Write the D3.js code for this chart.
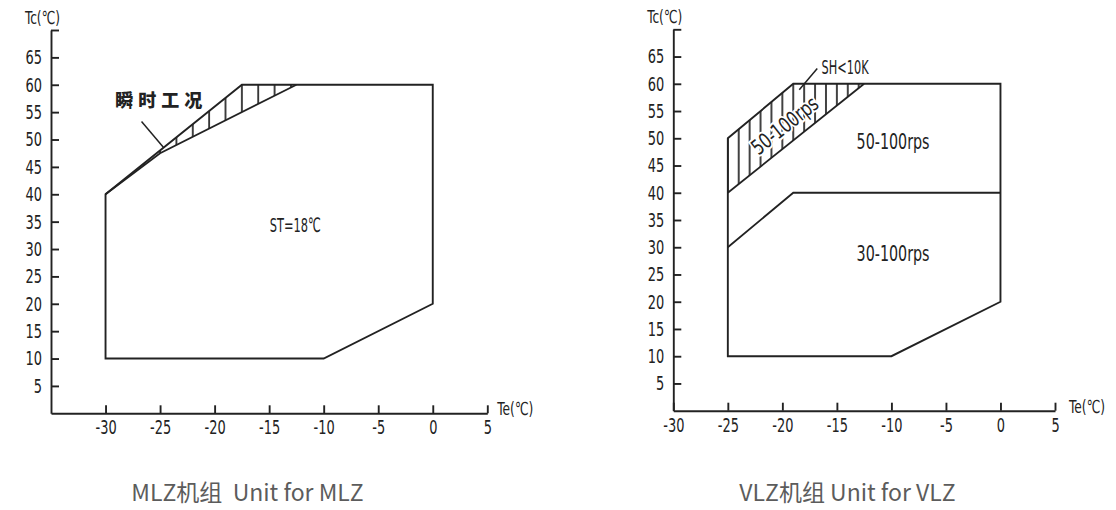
<!DOCTYPE html>
<html>
<head>
<meta charset="utf-8">
<script src="https://cdn.jsdelivr.net/npm/d3@7/dist/d3.min.js"></script>
<style>
  html, body { margin: 0; padding: 0; background: #fff; }
  svg { display: block; }
  .cad { font-family: "Liberation Sans Narrow", "DejaVu Sans Condensed", "Noto Sans", sans-serif; fill: #222; }
  .caption { font-family: "Noto Sans CJK SC", "Noto Sans", sans-serif; fill: #5c5c5c; font-size: 23px; }
</style>
</head>
<body>
<div id="chart"></div>
<script>
// tick values shared by both panels
const xTicks = [-30, -25, -20, -15, -10, -5, 0, 5];
const yTicks = [5, 10, 15, 20, 25, 30, 35, 40, 45, 50, 55, 60, 65, 70];
const yTickLabels = [5, 10, 15, 20, 25, 30, 35, 40, 45, 50, 55, 60, 65];

// MLZ envelope (Te, Tc)
const mlzOutline = [[-30, 10], [-30, 40], [-17.5, 60], [0, 60], [0, 20], [-10, 10]];
const mlzSteady = [[-30, 40], [-25, 47.5], [-12.5, 60]];
const mlzTransient = [[-30, 40], [-17.5, 60], [-12.5, 60], [-25, 47.5]];
const mlzLeader = [[-26.7, 53.3], [-24.7, 48.6]];

// VLZ envelope (Te, Tc)
const vlzOutline = [[-25, 10], [-25, 50], [-19, 60], [0, 60], [0, 20], [-10, 10]];
const vlzHatchEdge = [[-25, 40], [-12.5, 60]];
const vlzSpeedSplit = [[-25, 30], [-19, 40], [0, 40]];
const vlzSuperheat = [[-25, 40], [-25, 50], [-19, 60], [-12.5, 60]];
const vlzLeader = [[-16.8, 62.8], [-18.45, 58.9]];

const W = 1116, H = 510;
const ink = "#222";
const narrow = 0.72; // squeeze for the CAD-like digits

const svg = d3.select("#chart").append("svg")
    .attr("width", W)
    .attr("height", H);

const defs = svg.append("defs");

// fake a narrow drawing font
function squeeze(sel, factor) {
  sel.each(function() {
    let w = this.getComputedTextLength();
    if (w > 0) {
      d3.select(this)
          .attr("textLength", w * factor)
          .attr("lengthAdjust", "spacingAndGlyphs");
    }
  });
}

function drawPanel(cfg) {
  let x = d3.scaleLinear().domain(cfg.xDomain).range(cfg.xRange);
  let y = d3.scaleLinear().domain([0, 70]).range(cfg.yRange);
  let line = d3.line().x(d => x(d[0])).y(d => y(d[1]));
  let g = svg.append("g").attr("class", "panel-" + cfg.id);

  // vertical hatch, aligned on the data grid
  let step = x(cfg.hatchStep) - x(0);
  let pat = defs.append("pattern")
      .attr("id", "hatch-" + cfg.id)
      .attr("patternUnits", "userSpaceOnUse")
      .attr("x", x(cfg.hatchOrigin) - 1)
      .attr("y", 0)
      .attr("width", step)
      .attr("height", H);
  pat.append("line")
      .attr("x1", 1).attr("x2", 1)
      .attr("y1", 0).attr("y2", H)
      .attr("stroke", ink)
      .attr("stroke-width", 1.7);

  g.append("path")
      .attr("d", line(cfg.hatched) + "Z")
      .attr("fill", "url(#hatch-" + cfg.id + ")")
      .attr("stroke", "none");

  cfg.lines.forEach(pts => {
    g.append("path")
        .attr("d", line(pts))
        .attr("fill", "none")
        .attr("stroke", ink)
        .attr("stroke-width", 1.8);
  });

  g.append("path")
      .attr("d", line(cfg.outline) + "Z")
      .attr("fill", "none")
      .attr("stroke", ink)
      .attr("stroke-width", 1.9);

  g.append("path")
      .attr("d", line(cfg.leader))
      .attr("fill", "none")
      .attr("stroke", ink)
      .attr("stroke-width", 1.5);

  // axes, ticks pointing inward
  let yAxis = d3.axisLeft(y)
      .tickValues(yTicks)
      .tickSize(-8)
      .tickSizeOuter(0)
      .tickPadding(9)
      .tickFormat(d => yTickLabels.indexOf(d) >= 0 ? d : "");
  let xAxis = d3.axisBottom(x)
      .tickValues(xTicks)
      .tickSize(-8)
      .tickSizeOuter(0)
      .tickPadding(7)
      .tickFormat(d => d < 0 ? "-" + Math.abs(d) : d);

  let ya = g.append("g")
      .attr("transform", "translate(" + x(cfg.xDomain[0]) + ",0)")
      .call(yAxis);
  let xa = g.append("g")
      .attr("transform", "translate(0," + y(0) + ")")
      .call(xAxis);
  [ya, xa].forEach(a => {
    a.attr("font-family", null).attr("font-size", null);
    a.selectAll("path, line").attr("stroke", ink).attr("stroke-width", 1.9);
    let t = a.selectAll("text").attr("class", "cad").attr("fill", ink).style("font-size", "20px");
    squeeze(t, narrow);
  });

  g.append("text").attr("class", "cad")
      .attr("x", x(cfg.xDomain[0]) - 26).attr("y", y(70) - 6)
      .style("font-size", "18px")
      .attr("textLength", 35).attr("lengthAdjust", "spacingAndGlyphs")
      .text("Tc(℃)");
  g.append("text").attr("class", "cad")
      .attr("x", x(5) + cfg.teGap).attr("y", y(0) + 2)
      .style("font-size", "18px")
      .attr("textLength", 36).attr("lengthAdjust", "spacingAndGlyphs")
      .text("Te(℃)");

  cfg.labels.forEach(l => {
    let t = g.append("text")
        .attr("class", "cad")
        .attr("x", x(l.at[0]))
        .attr("y", y(l.at[1]))
        .attr("dy", "0.36em")
        .attr("text-anchor", l.anchor || "middle")
        .style("font-size", l.size + "px")
        .text(l.text);
    if (l.bold) {
      t.style("font-family", "'Noto Sans CJK SC', sans-serif")
       .style("font-weight", "900")
       .style("letter-spacing", "5px");
    }
    if (l.width) {
      t.attr("textLength", l.width).attr("lengthAdjust", "spacingAndGlyphs");
    }
    if (l.rotate) {
      t.attr("transform", "rotate(" + l.rotate + "," + x(l.at[0]) + "," + y(l.at[1]) + ")")
       .attr("stroke", "#fff")
       .attr("stroke-width", 4)
       .attr("paint-order", "stroke");
    }
  });

  svg.append("text")
      .attr("class", "caption")
      .attr("x", cfg.captionX)
      .attr("y", 501)
      .attr("text-anchor", "middle")
      .style("white-space", "pre")
      .text(cfg.caption);
}

drawPanel({
  id: "mlz",
  xDomain: [-35, 5], xRange: [51, 487.3], yRange: [413.3, 30],
  outline: mlzOutline,
  lines: [mlzSteady],
  hatched: mlzTransient,
  hatchStep: 1.5, hatchOrigin: -17.5,
  leader: mlzLeader,
  teGap: 10,
  labels: [
    {text: "瞬时工况", at: [-29.1, 57.2], anchor: "start", size: 18, bold: true},
    {text: "ST=18℃", at: [-12.6, 34.4], size: 20, width: 51}
  ],
  caption: "MLZ机组  Unit for MLZ",
  captionX: 247.5
});

drawPanel({
  id: "vlz",
  xDomain: [-30, 5], xRange: [673.3, 1055], yRange: [410.7, 29.3],
  outline: vlzOutline,
  lines: [vlzHatchEdge, vlzSpeedSplit],
  hatched: vlzSuperheat,
  hatchStep: 1, hatchOrigin: -24,
  leader: vlzLeader,
  teGap: 14,
  labels: [
    {text: "SH<10K", at: [-16.4, 63.1], anchor: "start", size: 20, width: 47},
    {text: "50-100rps", at: [-19.8, 52.4], size: 21, width: 79, rotate: -38.6},
    {text: "50-100rps", at: [-9.85, 49.4], size: 21, width: 73},
    {text: "30-100rps", at: [-9.85, 28.8], size: 21, width: 73}
  ],
  caption: "VLZ机组 Unit for VLZ",
  captionX: 847.5
});
</script>
</body>
</html>
